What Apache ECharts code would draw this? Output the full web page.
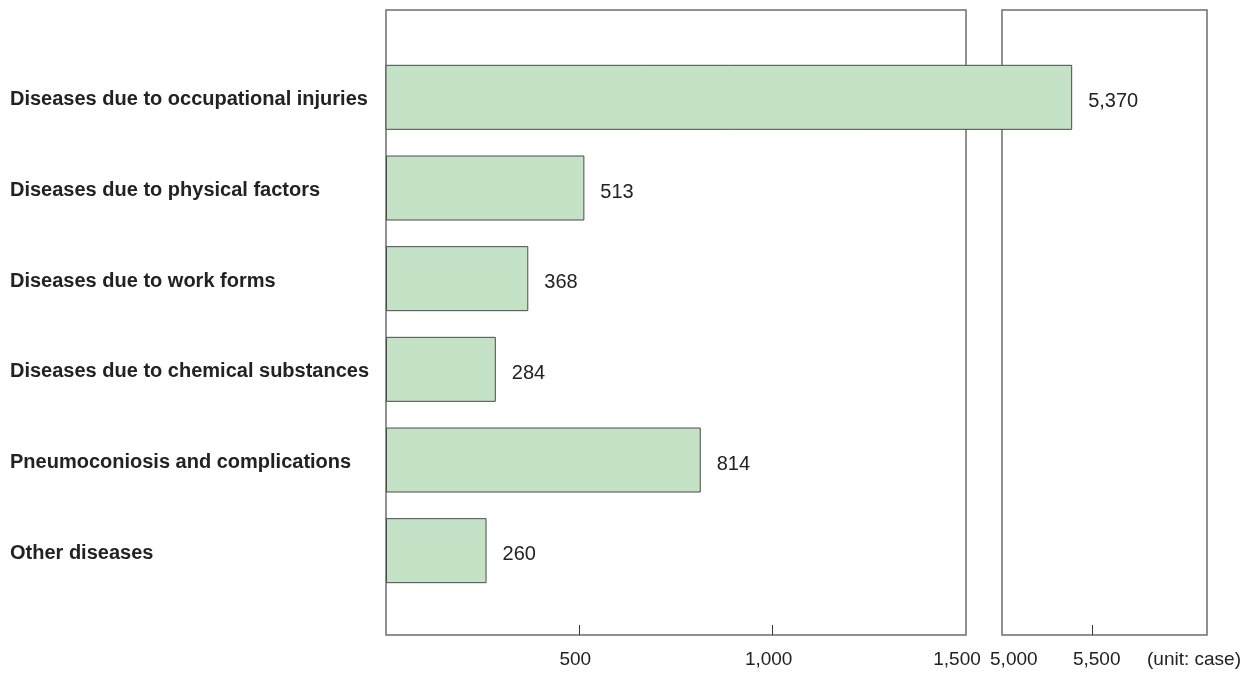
<!DOCTYPE html>
<html>
<head>
<meta charset="utf-8">
<title>Occupational diseases by type</title>
<script src="https://cdn.jsdelivr.net/npm/echarts@6/dist/echarts.min.js"></script>
<style>
  html, body { margin: 0; padding: 0; background: #ffffff; }
  #chart { width: 1251px; height: 673px; }
</style>
</head>
<body>
<div id="chart"></div>
<script>
// ---- data ----
const categories = [
  'Diseases due to occupational injuries',
  'Diseases due to physical factors',
  'Diseases due to work forms',
  'Diseases due to chemical substances',
  'Pneumoconiosis and complications',
  'Other diseases'
];
const cases = [5370, 513, 368, 284, 814, 260];

// broken value axis: a low segment and a high segment
const lowRange = [0, 1500];
const highRange = [4925, 6225];
const lowTickLabels = [500, 1000, 1500];
const highTickLabels = [5000, 5500];
const unitText = '(unit: case)';

// ---- layout ----
const FONT = "'Liberation Sans', Arial, Helvetica, sans-serif";
const TEXT = '#222222';
const FRAME = '#6e6e6e';
const BAR_FILL = '#c3e2c6';
const BAR_EDGE = '#4a4a4a';

const PANEL_TOP = 10, PANEL_H = 625;
const LOW_LEFT = 386, LOW_W = 580;
const HIGH_LEFT = 1002, HIGH_W = 205;
const PLOT_TOP = 52, PLOT_H = 544;
const BAR_W = 65;

// bars that run past the low segment are drawn in a grid that starts at the
// low panel's left edge and uses the high segment's scale
const pxPerUnit = HIGH_W / (highRange[1] - highRange[0]);
const brokenMin = highRange[0] - (HIGH_LEFT - LOW_LEFT) / pxPerUnit;

const fmt = v => String(v).replace(/\B(?=(\d{3})+(?!\d))/g, ',');

const lowData = cases.map(v => (v > lowRange[1] ? '-' : v));
const highData = cases.map(v => (v > lowRange[1] ? v : '-'));

const hiddenValueAxis = (gridIndex, min, max) => ({
  type: 'value', gridIndex, min, max, show: false,
  splitLine: { show: false }
});

const tickLabelStyle = {
  color: TEXT, fontFamily: FONT, fontSize: 19, margin: 15,
  rich: {
    l: { color: TEXT, fontFamily: FONT, fontSize: 19, padding: [0, 8, 0, 0] },
    e: { color: TEXT, fontFamily: FONT, fontSize: 19, padding: [0, 18, 0, 0] },
    r: { color: TEXT, fontFamily: FONT, fontSize: 19, padding: [0, 0, 0, 8] },
    m: { color: TEXT, fontFamily: FONT, fontSize: 19 }
  }
};

const frameGrid = (left, width) => ({
  left, top: PANEL_TOP, width, height: PANEL_H,
  show: true, borderColor: FRAME, borderWidth: 1.5, backgroundColor: 'transparent',
  outerBoundsMode: 'none', containLabel: false
});
const plotGrid = (left, width) => ({
  left, top: PLOT_TOP, width, height: PLOT_H,
  show: false, outerBoundsMode: 'none', containLabel: false
});

const barStyle = {
  type: 'bar',
  barWidth: BAR_W,
  itemStyle: { color: BAR_FILL, borderColor: BAR_EDGE, borderWidth: 1 },
  label: {
    show: true, position: 'right', distance: 16, offset: [0, 4],
    color: TEXT, fontFamily: FONT, fontSize: 20,
    formatter: p => fmt(p.value)
  },
  emphasis: { disabled: true },
  animation: false
};

const option = {
  backgroundColor: '#ffffff',
  animation: false,
  grid: [
    frameGrid(LOW_LEFT, LOW_W),      // 0: low panel frame + axis
    frameGrid(HIGH_LEFT, HIGH_W),    // 1: high panel frame + axis
    plotGrid(LOW_LEFT, LOW_W),       // 2: bars within the low segment
    plotGrid(LOW_LEFT, HIGH_LEFT + HIGH_W - LOW_LEFT) // 3: bars reaching the high segment
  ],
  xAxis: [
    {
      type: 'value', gridIndex: 0, min: lowRange[0], max: lowRange[1],
      axisLine: { show: false },
      splitLine: { show: false },
      axisTick: {
        show: true, inside: true, length: 10,
        customValues: lowTickLabels.filter(v => v < lowRange[1]),
        lineStyle: { color: '#333333', width: 1 }
      },
      axisLabel: Object.assign({}, tickLabelStyle, {
        customValues: lowTickLabels,
        formatter: v => (v === lowRange[1] ? '{e|' : '{l|') + fmt(v) + '}'
      })
    },
    {
      type: 'value', gridIndex: 1, min: highRange[0], max: highRange[1],
      axisLine: { show: false },
      splitLine: { show: false },
      axisTick: {
        show: true, inside: true, length: 10,
        customValues: highTickLabels.slice(1),
        lineStyle: { color: '#333333', width: 1 }
      },
      axisLabel: Object.assign({}, tickLabelStyle, {
        customValues: highTickLabels,
        formatter: v => (v === highTickLabels[0] ? '{m|' : '{r|') + fmt(v) + '}'
      })
    },
    hiddenValueAxis(2, lowRange[0], lowRange[1]),
    hiddenValueAxis(3, brokenMin, highRange[1])
  ],
  yAxis: [
    { type: 'value', gridIndex: 0, show: false, splitLine: { show: false } },
    { type: 'value', gridIndex: 1, show: false, splitLine: { show: false } },
    {
      type: 'category', gridIndex: 2, data: categories, inverse: true,
      axisLine: { show: false }, axisTick: { show: false },
      axisLabel: {
        show: true, align: 'left', margin: LOW_LEFT - 10,
        formatter: v => '{c|' + v + '}',
        rich: {
          c: {
            padding: [5, 0, 0, 0],
            color: TEXT, fontFamily: FONT, fontSize: 20, fontWeight: 'bold'
          }
        },
        color: TEXT, fontFamily: FONT, fontSize: 20, fontWeight: 'bold'
      }
    },
    {
      type: 'category', gridIndex: 3, data: categories, inverse: true, show: false
    }
  ],
  series: [
    Object.assign({}, barStyle, { name: 'low', xAxisIndex: 2, yAxisIndex: 2, data: lowData }),
    Object.assign({}, barStyle, { name: 'high', xAxisIndex: 3, yAxisIndex: 3, data: highData, clip: true })
  ],
  graphic: [
    {
      type: 'text', right: 10, top: 650,
      style: { text: unitText, fill: TEXT, font: '19px ' + FONT }
    }
  ]
};

const chart = echarts.init(document.getElementById('chart'), null, { renderer: 'canvas' });
chart.setOption(option);
</script>
</body>
</html>
